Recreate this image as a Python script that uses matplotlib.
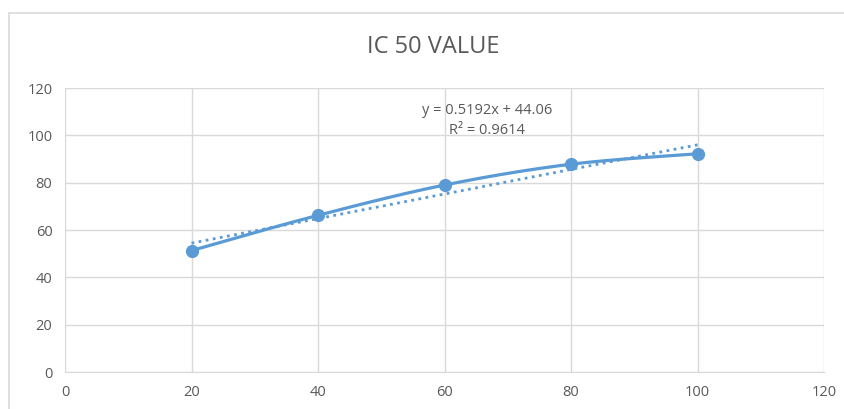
import numpy as np
import matplotlib
matplotlib.use("Agg")
import matplotlib.pyplot as plt
from matplotlib.patches import Rectangle

# concentration vs inhibition
conc = [20, 40, 60, 80, 100]
inhibition = [51.3, 66.2, 79.0, 87.8, 92.2]
slope, intercept = 0.5192, 44.06
r2 = 0.9614

line_color = "#5b9bd5"
text_color = "#595959"
grid_color = "#d9d9d9"
fam = ["Open Sans", "DejaVu Sans"]


def smooth_curve(xs, ys, n=40):
    # Catmull-Rom style bezier smoothing through the points
    xs = np.asarray(xs, float)
    ys = np.asarray(ys, float)
    pts = np.column_stack([xs, ys])
    out = []
    for i in range(len(pts) - 1):
        p0 = pts[max(i - 1, 0)]
        p1 = pts[i]
        p2 = pts[i + 1]
        p3 = pts[min(i + 2, len(pts) - 1)]
        c1 = p1 + (p2 - p0) / 6
        c2 = p2 - (p3 - p1) / 6
        t = np.linspace(0, 1, n)[:, None]
        seg = ((1 - t) ** 3) * p1 + 3 * ((1 - t) ** 2) * t * c1 \
            + 3 * (1 - t) * t ** 2 * c2 + t ** 3 * p2
        out.append(seg if i == 0 else seg[1:])
    seg = np.vstack(out)
    return seg[:, 0], seg[:, 1]


fig = plt.figure(figsize=(8.44, 4.09), dpi=100)
fig.patches.append(Rectangle((9 / 844, -0.1), 1.0, (409 - 13) / 409 + 0.1,
                             transform=fig.transFigure, fill=False,
                             edgecolor=grid_color, lw=1.2))

ax = fig.add_axes([65 / 844, 37 / 409, (824 - 65) / 844, (372 - 88) / 409])
ax.set_xlim(0, 120)
ax.set_ylim(0, 120)
ax.set_xticks(range(0, 121, 20))
ax.set_yticks(range(0, 121, 20))
ax.grid(True, color=grid_color, lw=1)
ax.set_axisbelow(True)
for s in ["top", "right", "left"]:
    ax.spines[s].set_visible(False)
ax.spines["bottom"].set_color(grid_color)
ax.tick_params(length=0, colors=text_color, labelsize=10.5, pad=9)
for lab in ax.get_xticklabels() + ax.get_yticklabels():
    lab.set_family(fam)

sx, sy = smooth_curve(conc, inhibition)
ax.plot(sx, sy, color=line_color, lw=2.3, zorder=3)
ax.plot(conc, inhibition, "o", color=line_color, ms=8.5, zorder=4)

tx = np.array([conc[0], conc[-1]])
ax.plot(tx, slope * tx + intercept, color=line_color, lw=2,
        ls=(0, (1, 1.6)), zorder=2)

ax.text(66.7, 110.7, f"y = {slope}x + {intercept}", ha="center", va="center",
        fontsize=10.5, color=text_color, family=fam)
ax.text(66.7, 102.0, f"R² = {r2}", ha="center", va="center",
        fontsize=10.5, color=text_color, family=fam)

fig.text(433 / 844, 1 - 47 / 409, "IC 50 VALUE", ha="center", va="center",
         fontsize=17, color=text_color, family=fam)

fig.savefig("out.png", dpi=100)
